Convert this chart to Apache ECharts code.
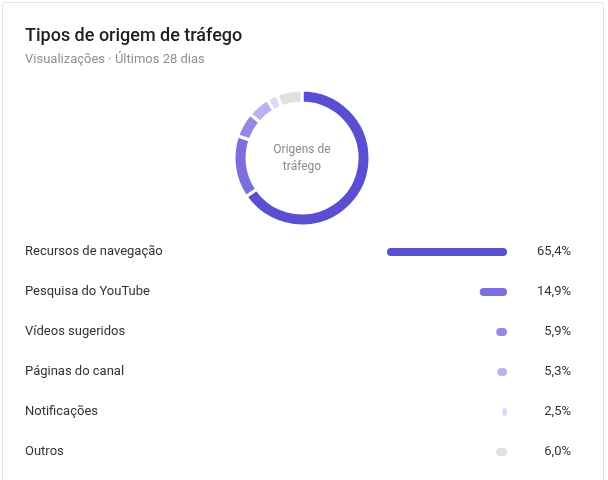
<!DOCTYPE html>
<html>
<head>
<meta charset="utf-8">
<script src="https://cdn.jsdelivr.net/npm/echarts@6/dist/echarts.min.js"></script>
<style>
    html, body { margin: 0; padding: 0; background: #fff; }
    #chart { width: 608px; height: 480px; }
</style>
</head>
<body>
<div id="chart"></div>
<script>
    // origens de tráfego, % de visualizações
    var categorias = ['Recursos de navegação', 'Pesquisa do YouTube', 'Vídeos sugeridos', 'Páginas do canal', 'Notificações', 'Outros'];
    var valores = [65.4, 14.9, 5.9, 5.3, 2.5, 6.0];
    var cores = ['#5a4fd2', '#7a6fdc', '#9389e2', '#b9b3ee', '#dcd9f6', '#e0e0e0'];

    var fmt = function (v) {
        return v.toFixed(1).replace('.', ',') + '%';
    };

    var myChart = echarts.init(document.getElementById('chart'));
    var option = {
        animation: false,
        textStyle: { fontFamily: 'Roboto' },
        title: [{
            text: 'Tipos de origem de tráfego',
            subtext: 'Visualizações · Últimos 28 dias',
            left: 20,
            top: 22,
            itemGap: 8,
            textStyle: { fontSize: 18, fontWeight: 500, color: '#212121', fontFamily: 'Roboto' },
            subtextStyle: { fontSize: 13, color: '#909090', fontFamily: 'Roboto' }
        }],
        graphic: [{
            type: 'rect',
            shape: { x: 2.5, y: 2.5, width: 601, height: 490, r: 2 },
            style: { fill: 'none', stroke: '#e3e3e3', lineWidth: 1 },
            silent: true,
            z: -1
        }, {
            type: 'text',
            x: 302,
            y: 158,
            style: {
                text: 'Origens de\ntráfego',
                fill: '#8a8a8a',
                fontSize: 12,
                fontFamily: 'Roboto',
                lineHeight: 17,
                align: 'center',
                verticalAlign: 'middle'
            }
        }],
        grid: {
            left: 387,
            right: 101,
            top: 232,
            height: 240
        },
        xAxis: {
            type: 'value',
            min: 0,
            max: valores[0],
            inverse: true,
            show: false
        },
        yAxis: [{
            type: 'category',
            data: categorias,
            inverse: true,
            axisLine: { show: false },
            axisTick: { show: false },
            axisLabel: {
                align: 'left',
                margin: 362,
                fontSize: 13,
                color: '#333',
                fontFamily: 'Roboto'
            }
        }, {
            type: 'category',
            position: 'right',
            data: valores.map(fmt),
            inverse: true,
            axisLine: { show: false },
            axisTick: { show: false },
            axisLabel: {
                align: 'right',
                margin: 64,
                fontSize: 13,
                color: '#333',
                fontFamily: 'Roboto'
            }
        }],
        series: [{
            type: 'pie',
            center: [302, 158],
            radius: [55, 68],
            startAngle: 90,
            clockwise: true,
            label: { show: false },
            labelLine: { show: false },
            itemStyle: { borderColor: '#fff', borderWidth: 3 },
            emphasis: { disabled: true },
            data: categorias.map(function (c, i) {
                return { name: c, value: valores[i], itemStyle: { color: cores[i] } };
            })
        }, {
            type: 'bar',
            barWidth: 8,
            data: valores.map(function (v, i) {
                return { value: v, itemStyle: { color: cores[i], borderRadius: 4 } };
            })
        }]
    };
    myChart.setOption(option);
</script>
</body>
</html>
